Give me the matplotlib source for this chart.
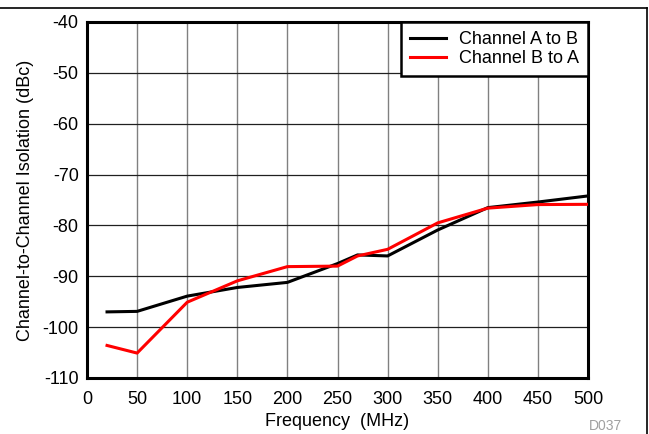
import matplotlib
matplotlib.use("Agg")
import matplotlib.pyplot as plt
from matplotlib.lines import Line2D

plt.rcParams['font.family'] = ['Liberation Sans', 'DejaVu Sans']
plt.rcParams['axes.unicode_minus'] = False

# Isolation measurements
freq_mhz = [20, 50, 100, 150, 200, 250, 270, 300, 350, 400, 450, 500]
iso_a_to_b = [-97.0, -96.9, -93.9, -92.2, -91.2, -87.5, -85.8, -86.0, -80.9, -76.5, -75.4, -74.2]
iso_b_to_a = [-103.6, -105.1, -95.1, -90.9, -88.1, -88.0, -86.0, -84.7, -79.5, -76.6, -75.9, -75.85]

x_ticks = list(range(0, 501, 50))
y_ticks = list(range(-110, -39, 10))

fig = plt.figure(figsize=(6.49, 4.34), dpi=100)
ax = fig.add_axes([87 / 649, 1 - 378 / 434, (588 - 87) / 649, (378 - 22) / 434])

ax.plot(freq_mhz, iso_a_to_b, color='black', lw=2.2, label='Channel A to B', zorder=3)
ax.plot(freq_mhz, iso_b_to_a, color='#ff0000', lw=2.2, label='Channel B to A', zorder=4)

ax.set_xlim(0, 500)
ax.set_ylim(-110, -40)
ax.set_xticks(x_ticks)
ax.set_yticks(y_ticks)
ax.tick_params(axis='both', length=0, labelsize=13)
ax.tick_params(axis='y', pad=6)
ax.tick_params(axis='x', pad=9)

ax.xaxis.grid(True, color='#808080', lw=1.0)
ax.yaxis.grid(True, color='#202020', lw=0.9)
ax.set_axisbelow(True)

for sp in ax.spines.values():
    sp.set_linewidth(2.2)
    sp.set_color('black')

ax.set_xlabel('Frequency  (MHz)', fontsize=13, labelpad=4)
ax.set_ylabel('Channel-to-Channel Isolation (dBc)', fontsize=13, labelpad=6)

leg = ax.legend(loc='upper right', fontsize=13, frameon=True, fancybox=False,
                borderaxespad=0, framealpha=1, edgecolor='black',
                handlelength=2.0, handletextpad=0.7, labelspacing=0.1,
                borderpad=0.5)
leg.get_frame().set_linewidth(1.8)
leg.set_zorder(10)

fig.text(605 / 649, 1 - 426 / 434, 'D037', fontsize=10, color='#a0a0a0',
         ha='center', va='center')

# page border lines
fig.add_artist(Line2D([0, 646.5 / 649], [1 - 7.5 / 434, 1 - 7.5 / 434],
                      transform=fig.transFigure, color='black', lw=1.2))
fig.add_artist(Line2D([646.5 / 649, 646.5 / 649], [0, 1 - 7.5 / 434],
                      transform=fig.transFigure, color='black', lw=1.2))

fig.savefig('out.png', dpi=100)
